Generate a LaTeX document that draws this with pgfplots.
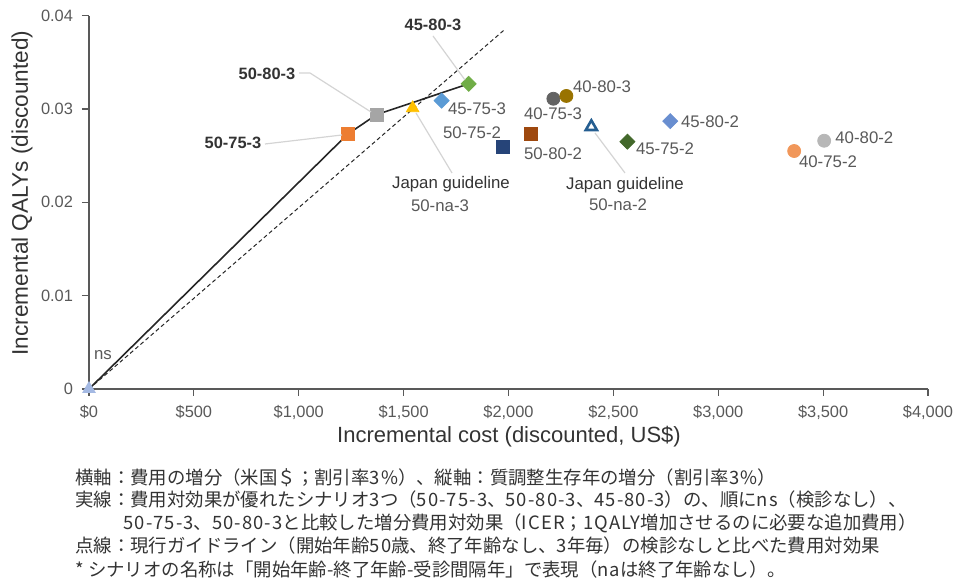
\documentclass[border=0pt]{standalone}
\usepackage{pgfplots}
\pgfplotsset{compat=1.18}
\usepackage{fontspec}
\setmainfont{Liberation Sans}
\newfontfamily\jp{Noto Sans CJK JP}
\newcommand\lat[1]{{\addfontfeature{LetterSpace=6}#1}}
\definecolor{axisgray}{HTML}{595959}
\definecolor{labgray}{HTML}{595959}
\definecolor{labdark}{HTML}{333333}
\definecolor{leader}{HTML}{D4D4D4}
\definecolor{cNS}{HTML}{A4B9E3}
\definecolor{cA}{HTML}{ED7D31}
\definecolor{cB}{HTML}{A5A5A5}
\definecolor{cC}{HTML}{FFC000}
\definecolor{cD}{HTML}{5B9BD5}
\definecolor{cE}{HTML}{70AD47}
\definecolor{cF}{HTML}{264478}
\definecolor{cG}{HTML}{9E480E}
\definecolor{cH}{HTML}{636363}
\definecolor{cI}{HTML}{997300}
\definecolor{cJ}{HTML}{255E91}
\definecolor{cK}{HTML}{43682B}
\definecolor{cL}{HTML}{698ED0}
\definecolor{cM}{HTML}{F1975A}
\definecolor{cN}{HTML}{B7B7B7}
\begin{document}
\begin{tikzpicture}
\useasboundingbox (-44.5pt,-96.5pt) rectangle (435pt,194.5pt);
\begin{axis}[
  at={(0,0)}, anchor=south west,
  scale only axis, width=419.5pt, height=186.65pt,
  xmin=0, xmax=4000, ymin=0, ymax=0.04,
  axis x line=bottom, axis y line=left,
  axis line style={-, draw=axisgray, line width=0.7pt},
  xtick={0,500,1000,1500,2000,2500,3000,3500,4000},
  xticklabels={\$0,\$500,{\$1,000},{\$1,500},{\$2,000},{\$2,500},{\$3,000},{\$3,500},{\$4,000}},
  ytick={0,0.01,0.02,0.03,0.04},
  yticklabels={0,0.01,0.02,0.03,0.04},
  scaled y ticks=false, scaled x ticks=false,
  tick align=outside, major tick length=3.5pt,
  tick style={draw=axisgray, line width=0.6pt},
  ticklabel style={font=\fontsize{8.2}{10}\selectfont, text=axisgray},
  xticklabel style={yshift=-1pt},
  yticklabel style={xshift=-1pt},
  clip=false,
]
% efficient frontier (solid) and guideline ICER line (dashed)
\addplot[black!85, line width=0.8pt] coordinates {(0,0) (1233,0.0273) (1371,0.0294) (1810,0.0327)};
\addplot[black!85, line width=0.5pt, dash pattern=on 2pt off 1.4pt] coordinates {(0,0) (1981,0.0385)};
% scenarios
\addplot[only marks, mark=triangle*, mark size=3.6pt, mark options={fill=cNS, draw=cNS}] coordinates {(0,0)};
\addplot[only marks, mark=square*, mark size=3.25pt, mark options={fill=cA, draw=cA}] coordinates {(1233,0.0273)};
\addplot[only marks, mark=square*, mark size=3.25pt, mark options={fill=cB, draw=cB}] coordinates {(1371,0.0294)};
\addplot[only marks, mark=triangle*, mark size=3.6pt, mark options={fill=cC, draw=cC}] coordinates {(1543,0.0301)};
\addplot[only marks, mark=square*, mark size=2.65pt, mark options={fill=cD, draw=cD, rotate=45}] coordinates {(1681,0.0309)};
\addplot[only marks, mark=square*, mark size=2.65pt, mark options={fill=cE, draw=cE, rotate=45}] coordinates {(1810,0.0327)};
\addplot[only marks, mark=square*, mark size=3.25pt, mark options={fill=cF, draw=cF}] coordinates {(1971,0.0259)};
\addplot[only marks, mark=square*, mark size=3.25pt, mark options={fill=cG, draw=cG}] coordinates {(2105,0.0273)};
\addplot[only marks, mark=*, mark size=3.25pt, mark options={fill=cH, draw=cH}] coordinates {(2214,0.0311)};
\addplot[only marks, mark=*, mark size=3.25pt, mark options={fill=cI, draw=cI}] coordinates {(2276,0.0314)};
\addplot[only marks, mark=triangle*, mark size=3.2pt, mark options={fill=white, draw=cJ, line width=1.3pt}] coordinates {(2395,0.0281)};
\addplot[only marks, mark=square*, mark size=2.65pt, mark options={fill=cK, draw=cK, rotate=45}] coordinates {(2567,0.0265)};
\addplot[only marks, mark=square*, mark size=2.65pt, mark options={fill=cL, draw=cL, rotate=45}] coordinates {(2771,0.0287)};
\addplot[only marks, mark=*, mark size=3.25pt, mark options={fill=cM, draw=cM}] coordinates {(3362,0.0255)};
\addplot[only marks, mark=*, mark size=3.25pt, mark options={fill=cN, draw=cN}] coordinates {(3505,0.0266)};
\end{axis}
\begin{scope}[x=0.5pt,y=-0.5pt,shift={(-44.5pt,194.5pt)}]
  % leader lines
  \draw[leader, line width=0.6pt] (433,36) -- (465,80);
  \draw[leader, line width=0.6pt] (299,73) -- (310,73) -- (371,112);
  \draw[leader, line width=0.6pt] (265,144) -- (342,135);
  \draw[leader, line width=0.6pt] (452,173) -- (416,113);
  \draw[leader, line width=0.6pt] (625,173) -- (595,133);
  % data labels
  \begin{scope}[every node/.style={font=\fontsize{8.4}{10}\selectfont, text=labgray, inner sep=0pt}]
    \node[text=labdark, font=\fontsize{8.2}{10}\selectfont\bfseries] at (433,25) {45-80-3};
    \node[text=labdark, font=\fontsize{8.2}{10}\selectfont\bfseries] at (267,74) {50-80-3};
    \node[text=labdark, font=\fontsize{8.2}{10}\selectfont\bfseries] at (233,143) {50-75-3};
    \node at (477,109) {45-75-3};
    \node at (472,133) {50-75-2};
    \node[text=labdark] at (451,184) {Japan guideline};
    \node at (440,206) {50-na-3};
    \node at (602,87) {40-80-3};
    \node at (553,114) {40-75-3};
    \node at (553,154) {50-80-2};
    \node at (710,122) {45-80-2};
    \node at (665,149) {45-75-2};
    \node[anchor=west] at (835,138) {40-80-2};
    \node at (828,162) {40-75-2};
    \node[text=labdark] at (625,185) {Japan guideline};
    \node at (618,205) {50-na-2};
    \node at (103,355) {ns};
  \end{scope}
  % axis titles
  \node[font=\fontsize{11}{13}\selectfont, text=labdark] at (509,437) {Incremental cost (discounted, US\$)};
  \node[font=\fontsize{11.3}{13}\selectfont, text=labdark, rotate=90] at (22,193) {Incremental QALYs (discounted)};
  % caption
  \begin{scope}[every node/.style={font=\jp\fontsize{9.2}{11}\selectfont, text=labdark, inner sep=0pt, anchor=west}]
    \node at (75,478) {横軸：費用の増分（米国＄；割引率\lat{3\%}）、縦軸：質調整生存年の増分（割引率\lat{3\%}）};
    \node at (75,500) {実線：費用対効果が優れたシナリオ\lat{3}つ（\lat{50-75-3}、\lat{50-80-3}、\lat{45-80-3}）の、順に\lat{ns}（検診なし）、};
    \node at (123,523) {\lat{50-75-3}、\lat{50-80-3}と比較した増分費用対効果（\lat{ICER}；\lat{1QALY}増加させるのに必要な追加費用）};
    \node at (75,546) {点線：現行ガイドライン（開始年齢\lat{50}歳、終了年齢なし、\lat{3}年毎）の検診なしと比べた費用対効果};
    \node at (75,570) {\lat{*} シナリオの名称は「開始年齢\lat{-}終了年齢\lat{-}受診間隔年」で表現（\lat{na}は終了年齢なし）。};
  \end{scope}
\end{scope}
\end{tikzpicture}
\end{document}
